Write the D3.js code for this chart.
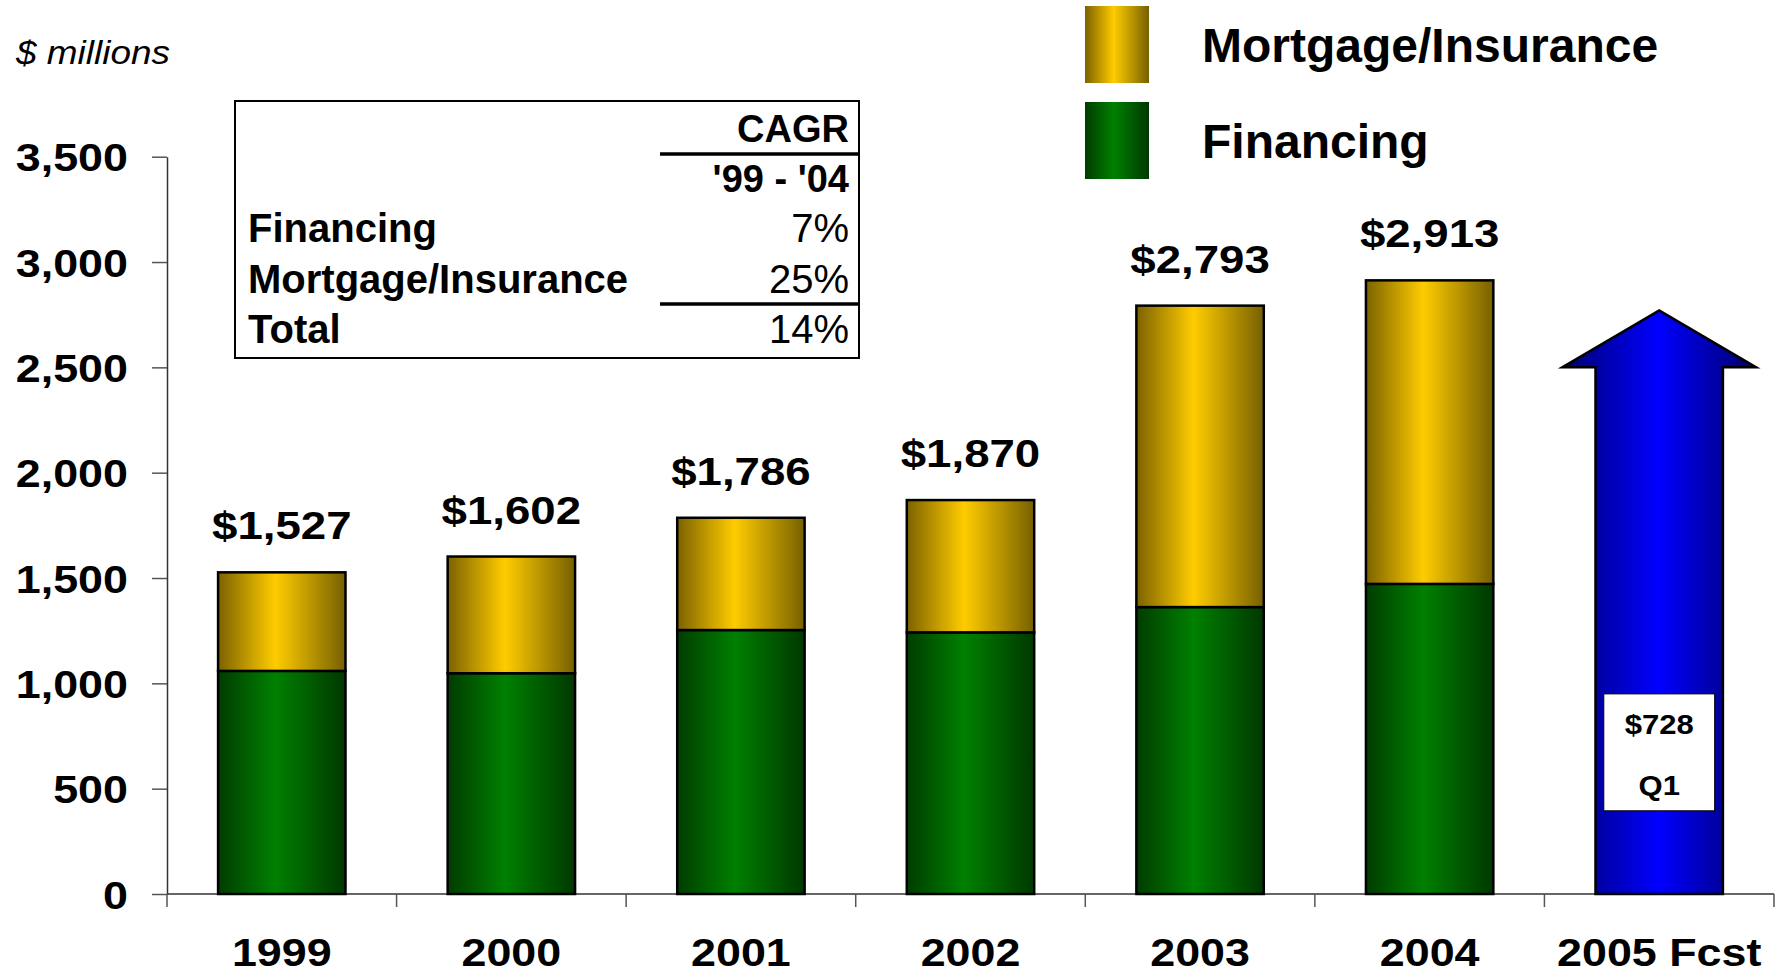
<!DOCTYPE html>
<html>
<head>
<meta charset="utf-8">
<script src="https://cdn.jsdelivr.net/npm/d3@7"></script>
<style>
	body { margin: 0; background: #fff; }
	svg { display: block; font-family: "Liberation Sans", Arial, Helvetica, sans-serif; }
</style>
</head>
<body>
<svg id="chart" width="1781" height="977"></svg>
<script>
const years = ["1999", "2000", "2001", "2002", "2003", "2004", "2005 Fcst"];
const financing = [1059, 1048, 1253, 1242, 1362, 1472];
const mortgage = [468, 554, 533, 628, 1431, 1441];
const totals = [1527, 1602, 1786, 1870, 2793, 2913];
const yTicks = [0, 500, 1000, 1500, 2000, 2500, 3000, 3500];

// forecast arrow for 2005 (shaft top, tip) and its Q1 box
const forecastArrow = [2500, 2770];
const forecastBox = [950, 395];
const forecastText = ["$728", "Q1"];

const legendNames = ["Mortgage/Insurance", "Financing"];
const cagrHeader = ["CAGR", "'99 - '04"];
const cagrRows = ["Financing", "Mortgage/Insurance", "Total"];
const cagrValues = ["7%", "25%", "14%"];

const w = 1781;
const h = 977;
const svg = d3.select('#chart');

const xScale = d3.scaleBand()
	.domain(years)
	.range([167, 1774])
	.paddingInner(0.445)
	.paddingOuter(0.2225);

const yScale = d3.scaleLinear()
	.domain([0, 3500])
	.range([894, 156.7]);

// gradients
const defs = svg.append('defs');
const grads = {
	gold: [['0', '#7c6200'], ['0.45', '#ffcc00'], ['1', '#766000']],
	green: [['0', '#003c00'], ['0.45', '#008000'], ['1', '#003800']],
	blue: [['0', '#000070'], ['0.5', '#0000ff'], ['1', '#000068']]
};
Object.keys(grads).forEach(id => {
	const g = defs.append('linearGradient')
		.attr('id', `grad-${id}`)
		.attr('x1', 0).attr('x2', 1).attr('y1', 0).attr('y2', 0);
	grads[id].forEach(([o, c]) => g.append('stop').attr('offset', o).attr('stop-color', c));
});

// stretched text helper (the slide text is wider than Arial)
function stretchText(x, y, txt, size, sx, anchor, weight, style) {
	return svg.append('text')
		.attr('transform', `translate(${x},${y}) scale(${sx},1)`)
		.attr('text-anchor', anchor)
		.style('font-size', `${size}px`)
		.style('font-weight', weight || 'bold')
		.style('font-style', style || 'normal')
		.attr('fill', '#000')
		.text(txt);
}

// y axis
const yAxis = d3.axisLeft(yScale)
	.tickValues(yTicks)
	.tickSize(15)
	.tickSizeOuter(0)
	.tickFormat(d3.format(','));

const yg = svg.append('g')
	.attr('id', 'y-axis')
	.attr('transform', 'translate(167,0)')
	.call(yAxis);
yg.select('.domain').attr('stroke', '#333').attr('stroke-width', 1.5);
yg.selectAll('.tick line').attr('stroke', '#555').attr('stroke-width', 1.5);
yg.selectAll('.tick text')
	.attr('x', 0)
	.attr('dy', '0.36em')
	.attr('transform', 'translate(-39,0) scale(1.15,1)')
	.style('font-size', '39px')
	.style('font-weight', 'bold')
	.attr('fill', '#000')
	.style('font-family', '"Liberation Sans", Arial, sans-serif');

// x axis line + boundary ticks
const step = xScale.step();
const boundaries = d3.range(years.length + 1).map(i => xScale.range()[0] + i * step);
svg.append('line')
	.attr('x1', 167).attr('x2', 1774)
	.attr('y1', yScale(0)).attr('y2', yScale(0))
	.attr('stroke', '#333').attr('stroke-width', 1.5);
svg.selectAll('.xtick')
	.data(boundaries)
	.enter()
	.append('line')
	.attr('class', 'xtick')
	.attr('x1', d => d).attr('x2', d => d)
	.attr('y1', yScale(0)).attr('y2', yScale(0) + 13)
	.attr('stroke', '#555').attr('stroke-width', 1.5);

const xAxis = d3.axisBottom(xScale).tickSize(0);
const xg = svg.append('g')
	.attr('id', 'x-axis')
	.attr('transform', `translate(0,${yScale(0)})`)
	.call(xAxis);
xg.select('.domain').remove();
xg.selectAll('.tick text')
	.attr('y', 0)
	.attr('dy', 0)
	.attr('transform', 'translate(0,72) scale(1.18,1)')
	.style('font-size', '38px')
	.style('font-weight', 'bold')
	.attr('fill', '#000')
	.style('font-family', '"Liberation Sans", Arial, sans-serif');

// stacked bars
const bw = xScale.bandwidth();
years.slice(0, financing.length).forEach((yr, i) => {
	const x0 = xScale(yr);
	svg.append('rect')
		.attr('x', x0).attr('width', bw)
		.attr('y', yScale(financing[i]))
		.attr('height', yScale(0) - yScale(financing[i]))
		.attr('fill', 'url(#grad-green)')
		.attr('stroke', '#000').attr('stroke-width', 2.5);
	svg.append('rect')
		.attr('x', x0).attr('width', bw)
		.attr('y', yScale(financing[i] + mortgage[i]))
		.attr('height', yScale(financing[i]) - yScale(financing[i] + mortgage[i]))
		.attr('fill', 'url(#grad-gold)')
		.attr('stroke', '#000').attr('stroke-width', 2.5);
	stretchText(x0 + bw / 2, yScale(totals[i]) - 33, `$${d3.format(',')(totals[i])}`, 38, 1.2, 'middle');
});

// forecast arrow
const fx = xScale(years[6]) + bw / 2;
const headW = bw * 1.52;
const arrowPts = [
	[fx - bw / 2, yScale(0)],
	[fx - bw / 2, yScale(forecastArrow[0])],
	[fx - headW / 2, yScale(forecastArrow[0])],
	[fx, yScale(forecastArrow[1])],
	[fx + headW / 2, yScale(forecastArrow[0])],
	[fx + bw / 2, yScale(forecastArrow[0])],
	[fx + bw / 2, yScale(0)]
];
svg.append('path')
	.attr('d', d3.line()(arrowPts) + 'Z')
	.attr('fill', 'url(#grad-blue)')
	.attr('stroke', '#000').attr('stroke-width', 2.5)
	.attr('stroke-linejoin', 'miter');

const boxW = bw * 0.87;
svg.append('rect')
	.attr('x', fx - boxW / 2).attr('width', boxW)
	.attr('y', yScale(forecastBox[0]))
	.attr('height', yScale(forecastBox[1]) - yScale(forecastBox[0]))
	.attr('fill', '#fff').attr('stroke', '#000').attr('stroke-width', 1);
stretchText(fx, yScale(forecastBox[0]) + 40, forecastText[0], 27, 1.15, 'middle');
stretchText(fx, yScale(forecastBox[0]) + 101, forecastText[1], 27, 1.15, 'middle');

// "$ millions"
stretchText(16, 64, '$ millions', 33, 1.12, 'start', 'normal', 'italic');

// legend
const legendFills = ['url(#grad-gold)', 'url(#grad-green)'];
legendNames.forEach((name, i) => {
	svg.append('rect')
		.attr('x', 1085).attr('y', 6 + i * 96)
		.attr('width', 64).attr('height', 77)
		.attr('fill', legendFills[i]);
	stretchText(1202, 62 + i * 96, name, 48, 1, 'start');
});

// CAGR table
svg.append('rect')
	.attr('x', 235).attr('y', 101)
	.attr('width', 624).attr('height', 257)
	.attr('fill', 'none').attr('stroke', '#000').attr('stroke-width', 2);
cagrHeader.forEach((t, i) => stretchText(849, 142 + i * 50, t, 38, 1, 'end'));
cagrRows.forEach((t, i) => stretchText(248, 242 + i * 50.5, t, 40, 1, 'start'));
cagrValues.forEach((t, i) => stretchText(849, 242 + i * 50.5, t, 40, 1, 'end', 'normal'));
[154, 304].forEach(yy => {
	svg.append('line')
		.attr('x1', 660).attr('x2', 858)
		.attr('y1', yy).attr('y2', yy)
		.attr('stroke', '#000').attr('stroke-width', 3.5);
});
</script>
</body>
</html>
